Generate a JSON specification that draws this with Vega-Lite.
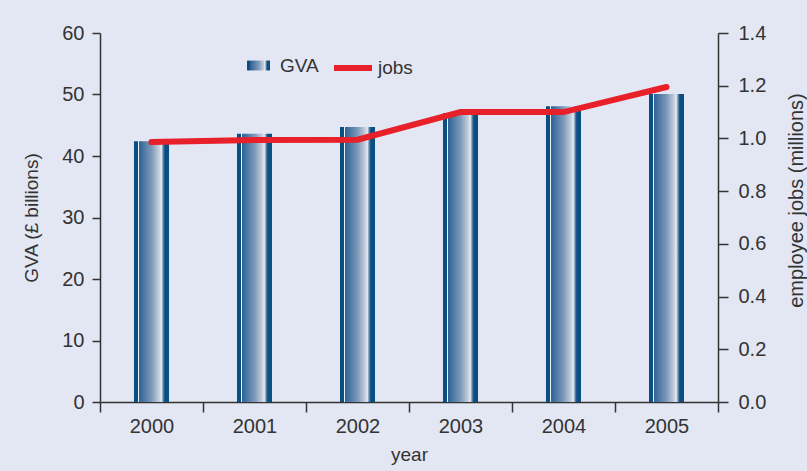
{
  "$schema": "https://vega.github.io/schema/vega-lite/v6.json",
  "width": 618,
  "height": 369,
  "autosize": "none",
  "padding": {"left": 100, "top": 33, "right": 89, "bottom": 69},
  "background": "#e3e6f3",
  "config": {
    "view": {"stroke": null},
    "font": "Liberation Sans",
    "axis": {
      "labelFont": "Liberation Sans",
      "labelFontSize": 20,
      "labelColor": "#333333",
      "titleFont": "Liberation Sans",
      "titleFontSize": 19,
      "titleFontWeight": "normal",
      "titleColor": "#333333",
      "domainColor": "#333333",
      "domainWidth": 1.5,
      "tickColor": "#333333",
      "tickWidth": 1.5,
      "grid": false
    },
    "legend": {
      "labelFont": "Liberation Sans",
      "labelFontSize": 19,
      "labelColor": "#333333",
      "padding": 0
    }
  },
  "data": {
    "values": [
      {"year": "2000", "gva": 42.4, "jobs": 0.986},
      {"year": "2001", "gva": 43.6, "jobs": 0.994},
      {"year": "2002", "gva": 44.7, "jobs": 0.995},
      {"year": "2003", "gva": 47.0, "jobs": 1.1},
      {"year": "2004", "gva": 48.1, "jobs": 1.1},
      {"year": "2005", "gva": 50.1, "jobs": 1.195}
    ]
  },
  "encoding": {
    "x": {
      "field": "year",
      "type": "ordinal",
      "title": "year",
      "scale": {"paddingInner": 0, "paddingOuter": 0},
      "axis": {"labelAngle": 0, "tickBand": "extent", "tickSize": 10, "labelPadding": 4, "titlePadding": 9}
    }
  },
  "layer": [
    {
      "mark": {
        "type": "bar",
        "width": {"band": 0.34},
        "fill": {
          "gradient": "linear",
          "x1": 0, "y1": 0, "x2": 1, "y2": 0,
          "stops": [
            {"offset": 0, "color": "#0a4e82"},
            {"offset": 0.11, "color": "#0a4e82"},
            {"offset": 0.115, "color": "#eef1f6"},
            {"offset": 0.145, "color": "#eef1f6"},
            {"offset": 0.15, "color": "#2f6496"},
            {"offset": 0.5, "color": "#7c98b9"},
            {"offset": 0.72, "color": "#c5cfdc"},
            {"offset": 0.78, "color": "#e8ecf2"},
            {"offset": 0.83, "color": "#6a8db0"},
            {"offset": 0.88, "color": "#0a4e82"},
            {"offset": 1, "color": "#0a4e82"}
          ]
        }
      },
      "encoding": {
        "y": {
          "field": "gva",
          "type": "quantitative",
          "title": "GVA (£ billions)",
          "scale": {"domain": [0, 60], "nice": false},
          "axis": {"values": [0, 10, 20, 30, 40, 50, 60], "tickSize": 8, "labelPadding": 8, "titlePadding": 20}
        },
        "opacity": {
          "datum": "GVA",
          "type": "ordinal",
          "scale": {"range": [1]},
          "legend": {
            "title": null,
            "orient": "none",
            "legendX": 147,
            "legendY": 21,
            "symbolType": "M-1,-0.43H1V0.43H-1Z",
            "symbolSize": 529,
            "symbolStrokeWidth": 0,
            "symbolFillColor": "#2f6496",
            "labelOffset": 10,
            "encode": {
              "symbols": {
                "update": {
                  "fill": {
                    "value": {
                      "gradient": "linear",
                      "x1": 0, "y1": 0, "x2": 1, "y2": 0,
                      "stops": [
                        {"offset": 0, "color": "#0a4e82"},
                        {"offset": 0.2, "color": "#2f6496"},
                        {"offset": 0.5, "color": "#7c98b9"},
                        {"offset": 0.72, "color": "#c5cfdc"},
                        {"offset": 0.8, "color": "#6a8db0"},
                        {"offset": 0.88, "color": "#0a4e82"},
                        {"offset": 1, "color": "#0a4e82"}
                      ]
                    }
                  }
                }
              }
            }
          }
        }
      }
    },
    {
      "mark": {"type": "line", "strokeWidth": 6, "strokeCap": "round"},
      "encoding": {
        "y": {
          "field": "jobs",
          "type": "quantitative",
          "title": "employee jobs (millions)",
          "scale": {"domain": [0, 1.4], "nice": false},
          "axis": {"orient": "right", "values": [0, 0.2, 0.4, 0.6, 0.8, 1.0, 1.2, 1.4], "format": ".1f", "tickSize": 10, "labelPadding": 10, "titleAngle": 270, "titleFontSize": 20, "titleBaseline": "middle", "titleAlign": "center", "titleX": 78, "titleY": 167}
        },
        "stroke": {
          "datum": "jobs",
          "scale": {"range": ["#e8202a"]},
          "legend": {
            "title": null,
            "orient": "none",
            "legendX": 231,
            "legendY": 13,
            "symbolType": "stroke",
            "symbolSize": 1444,
            "symbolStrokeWidth": 6,
            "labelOffset": 3
          }
        }
      }
    }
  ],
  "resolve": {"scale": {"y": "independent", "opacity": "independent", "stroke": "independent"}}
}
